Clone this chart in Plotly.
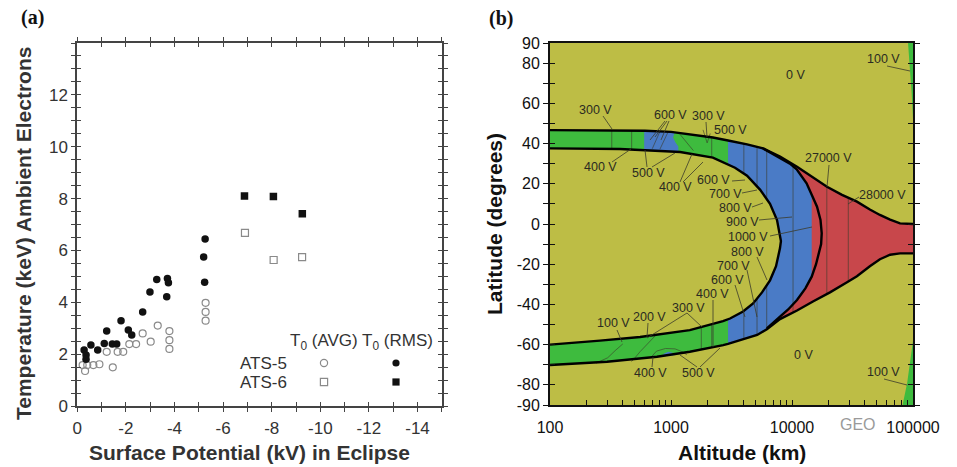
import plotly.graph_objects as go

W, H = 957, 467
FONT = "Liberation Sans, Arial, Helvetica, sans-serif"

# ---------------- Panel (a) data ----------------
ats5_rms_x = [-0.28, -0.36, -0.36, -0.56, -0.84, -1.11, -1.21, -1.44, -1.62, -1.80, -2.10,
              -2.24, -2.69, -2.99, -3.27, -3.71, -3.75, -3.68, -5.26, -5.20, -5.24]
ats5_rms_y = [2.16, 1.97, 1.80, 2.35, 2.16, 2.41, 2.89, 2.39, 2.39, 3.29, 2.93,
              2.74, 3.63, 4.40, 4.88, 4.92, 4.75, 4.21, 6.44, 5.75, 4.77]
ats5_avg_x = [-0.22, -0.32, -0.41, -0.66, -0.91, -1.21, -1.46, -1.66, -1.89, -2.14,
              -2.42, -2.69, -3.02, -3.31, -3.79, -3.79, -3.79, -5.28, -5.28, -5.28]
ats5_avg_y = [1.58, 1.35, 1.58, 1.58, 1.61, 2.09, 1.49, 2.09, 2.09, 2.39,
              2.39, 2.80, 2.48, 3.10, 2.89, 2.54, 2.20, 3.98, 3.63, 3.29]
ats6_rms_x = [-6.88, -8.07, -9.26]
ats6_rms_y = [8.10, 8.08, 7.41]
ats6_avg_x = [-6.90, -8.08, -9.25]
ats6_avg_y = [6.68, 5.63, 5.74]

a_xtick_vals = list(range(0, -16, -1))
a_xtick_text = [str(v) if v % 2 == 0 else "" for v in a_xtick_vals]
a_ytick_vals = [i * 0.5 for i in range(29)]
a_ytick_text = [str(int(v)) if (v % 2 == 0 and v <= 12) else "" for v in a_ytick_vals]

# ---------------- Panel (b) data (altitude km, latitude deg) ----------------
upper_outer_alt = [100, 300, 610, 1000, 1580, 2220, 2960, 4250, 5760, 7960, 11000, 14550,
                   19450, 25900, 34400, 44000, 53300, 64700, 78100, 100000]
upper_outer_lat = [46.7, 46.6, 46.4, 45.8, 44.4, 43.0, 41.5, 39.6, 37.6, 33.5, 28.5, 23.6,
                   18.5, 14.5, 11.1, 7.2, 4.5, 2.2, 0.3, 0.0]
lower_outer_alt = [100, 296, 765, 1430, 2700, 2960, 5150, 6200, 7960, 11000, 14900, 20600,
                   28500, 34400, 44000, 53300, 64700, 78100, 100000]
lower_outer_lat = [-70.1, -68.5, -66.0, -63.5, -60.2, -59.6, -55.2, -52.3, -47.3, -43.0, -38.5,
                   -34.0, -29.0, -26.0, -21.0, -17.5, -15.3, -14.6, -14.6]
c_outer_alt = [5760, 7960, 9610, 11000, 13200, 14550, 16100, 17200, 17600, 17400, 16700,
               15800, 14550, 12900, 11000, 9300, 7960, 6860, 6200]
c_outer_lat = [37.6, 33.0, 30.0, 27.0, 20.2, 14.5, 8.6, 2.0, -4.6, -10.0, -14.6,
               -20.0, -26.2, -32.0, -37.8, -42.5, -46.1, -49.8, -51.9]
inner_c_alt = [100, 379, 1190, 2220, 3380, 4250, 5460, 6580, 7520, 7960, 8100, 7960, 7380,
               6580, 5650, 4770, 3940, 3075, 2690, 1430, 555, 259, 100]
inner_c_lat = [37.6, 37.3, 35.8, 33.0, 28.0, 24.0, 17.0, 10.0, 2.0, -5.0, -8.5, -12.0, -21.0,
               -28.0, -34.0, -39.5, -43.5, -47.0, -48.3, -52.8, -56.2, -58.0, -60.0]
split_alt = 5760        # where the outer C leaves the upper boundary
merge_alt = 6200        # where the outer C joins the lower boundary
green_blue_alt = 2960   # green -> blue transition
blue_red_alt = 14550    # blue -> red transition

patch_upper_alt = [600, 1075, 1040, 1090, 1150, 1150, 600]
patch_upper_lat = [46.5, 45.7, 43.0, 40.5, 38.5, 35.7, 37.1]
patch_lower_alt = [830, 880, 950, 1030, 1090, 950]
patch_lower_lat = [-65.6, -64.4, -63.5, -64.0, -65.2, -65.6]

wedge_top_alt = [91000, 100000, 100000, 97500, 94000]
wedge_top_lat = [90, 90, 52, 65, 78]
wedge_bot_alt = [82000, 100000, 100000, 89500]
wedge_bot_lat = [-90, -90, -58, -79]

contour_full_alt = [2170, 4000, 5140, 6180, 10200, 19400, 29200]
contour_upper_alt = [324, 473]
contour_lower_alt = [1780]
contour_paths = [
    ([1840, 1990, 2110], [46.8, 40.3, 45.0]),
    ([700, 810], [37.4, 46.0]),
    ([810, 950], [37.2, 46.0]),
    ([1190, 1530], [44.5, 36.5]),
    ([240, 300, 345, 400], [-69.2, -66.5, -63.0, -59.6]),
    ([470, 487, 555, 650, 740], [-68.3, -67.6, -63.5, -59.3, -55.6]),
    ([680, 760, 900, 1080, 1250, 1350], [-66.4, -63.2, -61.9, -62.1, -63.6, -65.0]),
]

b_xtick_vals = [d * m for d in (100, 1000, 10000) for m in range(1, 10)] + [100000]
b_xtick_text = [str(v) if str(v).strip("0") == "1" else "" for v in b_xtick_vals]
b_ytick_vals = list(range(-90, 91, 10))
b_ylabels = {90, 80, 60, 40, 20, 0, -20, -40, -60, -80, -90}
b_ytick_text = [str(v) if v in b_ylabels else "" for v in b_ytick_vals]

# contour labels (text, px x, px y) and leader lines (px)
B_LABELS = [
    ("100 V", 883, 59), ("0 V", 795, 75), ("300 V", 595, 110), ("600 V", 670, 115),
    ("300 V", 708, 116), ("500 V", 730, 130), ("400 V", 600, 167), ("500 V", 648, 173),
    ("400 V", 675, 187), ("600 V", 713, 180), ("700 V", 725, 194), ("800 V", 735, 208),
    ("900 V", 742, 222), ("1000 V", 748, 237), ("27000 V", 828, 158), ("28000 V", 882, 195),
    ("800 V", 747, 252), ("700 V", 733, 266), ("600 V", 727, 280), ("400 V", 712, 294),
    ("300 V", 688, 308), ("200 V", 649, 317), ("100 V", 613, 323), ("400 V", 650, 373),
    ("500 V", 698, 373), ("0 V", 803, 355), ("100 V", 883, 372),
]
B_LEADERS = [
    (887, 66, 910, 71), (603, 116, 612, 129), (665, 121, 650, 140), (667, 121, 655, 137),
    (669, 121, 661, 140), (706, 122, 707, 137), (612, 162, 631, 149), (647, 167, 645, 150),
    (652, 167, 675, 153), (680, 182, 692, 154), (683, 182, 703, 162), (732, 181, 745, 180),
    (742, 193, 757, 190), (752, 207, 763, 203), (759, 220, 792, 217), (770, 236, 812, 227),
    (829, 165, 827, 187), (859, 197, 848, 204), (757, 257, 767, 280), (747, 270, 757, 317),
    (735, 285, 745, 317), (713, 300, 713, 347), (687, 313, 647, 338), (687, 313, 702, 327),
    (648, 323, 647, 337), (617, 330, 622, 342), (652, 367, 653, 357), (697, 367, 680, 355),
    (700, 367, 720, 348), (884, 379, 907, 385),
]

# ---------------- geometry (pixels -> paper) ----------------
AX0, AX1, AY0, AY1 = 77.3, 441.8, 43, 406
BX0, BX1, BY0, BY1 = 550, 913, 43, 405


def px(x, y):
    return x / W, 1 - y / H


OLIVE = "#BDBD45"
GREEN = "#3EBB3E"
BLUE = "#4A7BC6"
RED = "#C8474B"
AXC = "#444444"

fig = go.Figure()

# ---- panel (a) points ----
fig.add_trace(go.Scatter(x=ats5_avg_x, y=ats5_avg_y, mode="markers", name="ATS-5 T0 (AVG)",
                         marker=dict(symbol="circle-open", size=7, color="#8a8a8a", line=dict(width=1.2))))
fig.add_trace(go.Scatter(x=ats5_rms_x, y=ats5_rms_y, mode="markers", name="ATS-5 T0 (RMS)",
                         marker=dict(symbol="circle", size=7.5, color="#111111")))
fig.add_trace(go.Scatter(x=ats6_avg_x, y=ats6_avg_y, mode="markers", name="ATS-6 T0 (AVG)",
                         marker=dict(symbol="square-open", size=7, color="#8a8a8a", line=dict(width=1.2))))
fig.add_trace(go.Scatter(x=ats6_rms_x, y=ats6_rms_y, mode="markers", name="ATS-6 T0 (RMS)",
                         marker=dict(symbol="square", size=7.5, color="#111111")))
fig.add_trace(go.Scatter(x=[None], y=[None], xaxis="x3", yaxis="y", hoverinfo="skip"))
fig.add_trace(go.Scatter(x=[None], y=[None], xaxis="x", yaxis="y3", hoverinfo="skip"))


# ---- panel (b) ----
def poly(xs, ys, color):
    fig.add_trace(go.Scatter(x=xs, y=ys, fill="toself", fillcolor=color, mode="none",
                             xaxis="x2", yaxis="y2", hoverinfo="skip"))


def pts(alts, lats, cond):
    return [(a, l) for a, l in zip(alts, lats) if cond(a)]


# red: whole region between upper and lower boundaries
poly(upper_outer_alt + lower_outer_alt[::-1], upper_outer_lat + lower_outer_lat[::-1], RED)
# blue: inside outer C, below blue/red transition
bp = (pts(upper_outer_alt, upper_outer_lat, lambda a: a <= split_alt)
      + pts(c_outer_alt, c_outer_lat, lambda a: a <= blue_red_alt)
      + pts(lower_outer_alt, lower_outer_lat, lambda a: a <= merge_alt)[::-1])
poly([p[0] for p in bp], [p[1] for p in bp], BLUE)
# green: bands below the green/blue transition
gp = (pts(upper_outer_alt, upper_outer_lat, lambda a: a <= green_blue_alt)
      + pts(lower_outer_alt, lower_outer_lat, lambda a: a <= green_blue_alt)[::-1])
poly([p[0] for p in gp], [p[1] for p in gp], GREEN)
poly(patch_upper_alt, patch_upper_lat, BLUE)

# vertical contour lines (clipped by the olive areas drawn after)
cx, cy = [], []
for a in contour_full_alt:
    cx += [a, a, None]; cy += [-90, 90, None]
for a in contour_upper_alt:
    cx += [a, a, None]; cy += [0, 90, None]
for a in contour_lower_alt:
    cx += [a, a, None]; cy += [-90, 0, None]
fig.add_trace(go.Scatter(x=cx, y=cy, mode="lines", line=dict(color="#3b3b2b", width=0.8),
                         xaxis="x2", yaxis="y2", hoverinfo="skip", opacity=0.75))

# olive outside regions and inner region
poly(upper_outer_alt + [100000, 100], upper_outer_lat + [90, 90], OLIVE)
poly(lower_outer_alt + [100000, 100], lower_outer_lat + [-90, -90], OLIVE)
poly(inner_c_alt, inner_c_lat, OLIVE)
poly(patch_lower_alt, patch_lower_lat, BLUE)

for xs, ys in contour_paths:
    fig.add_trace(go.Scatter(x=xs, y=ys, mode="lines", line=dict(color="#3b3b2b", width=0.8),
                             xaxis="x2", yaxis="y2", hoverinfo="skip", opacity=0.75))

poly(wedge_top_alt, wedge_top_lat, GREEN)
poly(wedge_bot_alt, wedge_bot_lat, GREEN)

for xs, ys in ((upper_outer_alt, upper_outer_lat), (lower_outer_alt, lower_outer_lat),
               (c_outer_alt, c_outer_lat), (inner_c_alt, inner_c_lat)):
    fig.add_trace(go.Scatter(x=xs, y=ys, mode="lines", line=dict(color="#000000", width=2.4),
                             xaxis="x2", yaxis="y2", hoverinfo="skip"))

fig.add_trace(go.Scatter(x=[None], y=[None], xaxis="x2", yaxis="y4", hoverinfo="skip"))

# ---------------- annotations / shapes ----------------
ann = []
shapes = []


def text(t, x, y, size, color, bold=False, angle=0, family=FONT):
    xx, yy = px(x, y)
    ann.append(dict(text=f"<b>{t}</b>" if bold else t, x=xx, y=yy, xref="paper", yref="paper",
                    showarrow=False, xanchor="center", yanchor="middle", textangle=angle,
                    font=dict(family=family, size=size, color=color)))


text("(a)", 32, 18, 20, "#111", bold=True, family="Liberation Serif, Times New Roman, serif")
text("(b)", 501, 19, 20, "#111", bold=True, family="Liberation Serif, Times New Roman, serif")
text("Temperature (keV) Ambient Electrons", 23, 234, 21, "#333", bold=True, angle=-90)
text("Surface Potential (kV) in Eclipse", 249, 452, 21, "#333", bold=True)
text("Latitude (degrees)", 494, 224, 21, "#111", bold=True, angle=-90)
text("Altitude (km)", 742, 452, 21, "#111", bold=True)
text("GEO", 858, 424, 16, "#9a9a9a")

# legend of panel (a)
text("T<sub>0</sub> (AVG) T<sub>0</sub> (RMS)", 361, 342, 17, "#333")
text("ATS-5", 263, 363, 17, "#333")
text("ATS-6", 263, 382, 17, "#333")


def key(kind, x, y, filled):
    r = 3.6
    x0, y0 = px(x - r, y + r)
    x1, y1 = px(x + r, y - r)
    shapes.append(dict(type=kind, xref="paper", yref="paper", x0=x0, y0=y0, x1=x1, y1=y1,
                       fillcolor="#111" if filled else "rgba(0,0,0,0)",
                       line=dict(color="#111" if filled else "#8a8a8a", width=0 if filled else 1.2)))


key("circle", 324, 363, False)
key("circle", 396, 363, True)
key("rect", 324, 382, False)
key("rect", 396, 382, True)

for t, x, y in B_LABELS:
    text(t, x, y, 12.5, "#2b2b22")
for x0, y0, x1, y1 in B_LEADERS:
    a0, b0 = px(x0, y0)
    a1, b1 = px(x1, y1)
    shapes.append(dict(type="line", xref="paper", yref="paper", x0=a0, y0=b0, x1=a1, y1=b1,
                       line=dict(color="#3b3b2b", width=0.8)))

# olive background for panel (b)
shapes.append(dict(type="rect", xref="x2 domain", yref="y2 domain", x0=0, y0=0, x1=1, y1=1,
                   fillcolor=OLIVE, line=dict(width=0), layer="below"))

tickfont_a = dict(family=FONT, size=17, color="#333")
tickfont_b = dict(family=FONT, size=16, color="#111")

xa_dom = [AX0 / W, AX1 / W]
ya_dom = [1 - AY1 / H, 1 - AY0 / H]
xb_dom = [BX0 / W, BX1 / W]
yb_dom = [1 - BY1 / H, 1 - BY0 / H]

common = dict(showgrid=False, zeroline=False, automargin=False)

fig.update_layout(
    width=W, height=H, template="none", showlegend=False,
    margin=dict(l=0, r=0, t=0, b=0, pad=0),
    paper_bgcolor="white", plot_bgcolor="white",
    font=dict(family=FONT),
    xaxis=dict(domain=xa_dom, range=[0, -15], anchor="y", tickmode="array",
               tickvals=a_xtick_vals, ticktext=a_xtick_text, ticks="outside", ticklen=4,
               tickwidth=1.2, tickcolor=AXC, showline=True, linecolor=AXC, linewidth=1.8,
               mirror="ticks", tickfont=tickfont_a, ticklabelstandoff=2, **common),
    xaxis3=dict(overlaying="x", anchor="y", range=[0, -15], tickmode="array",
                tickvals=a_xtick_vals, ticks="inside", ticklen=4, tickwidth=1.2, tickcolor=AXC,
                showticklabels=False, showline=False, mirror="ticks", **common),
    yaxis=dict(domain=ya_dom, range=[0, 14], anchor="x", tickmode="array",
               tickvals=a_ytick_vals, ticktext=a_ytick_text, ticks="outside", ticklen=4,
               tickwidth=1.2, tickcolor=AXC, showline=True, linecolor=AXC, linewidth=1.8,
               mirror="ticks", tickfont=tickfont_a, **common),
    yaxis3=dict(overlaying="y", anchor="x", range=[0, 14], tickmode="array",
                tickvals=a_ytick_vals, ticks="inside", ticklen=4, tickwidth=1.2, tickcolor=AXC,
                showticklabels=False, showline=False, mirror="ticks", **common),
    xaxis2=dict(domain=xb_dom, type="log", range=[2, 5], anchor="y2", tickmode="array",
                tickvals=b_xtick_vals, ticktext=b_xtick_text, ticks="inside", ticklen=5,
                tickwidth=1.2, tickcolor="#111", showline=True, linecolor="#111", linewidth=2,
                mirror=True, tickfont=tickfont_b, ticklabelstandoff=7, **common),
    yaxis2=dict(domain=yb_dom, range=[-90, 90], anchor="x2", tickmode="array",
                tickvals=b_ytick_vals, ticktext=b_ytick_text, ticks="outside", ticklen=5,
                tickwidth=1.2, tickcolor="#111", showline=True, linecolor="#111", linewidth=2,
                mirror="ticks", tickfont=tickfont_b, **common),
    yaxis4=dict(overlaying="y2", anchor="x2", range=[-90, 90], tickmode="array",
                tickvals=b_ytick_vals, ticks="inside", ticklen=5, tickwidth=1.2, tickcolor="#111",
                showticklabels=False, showline=False, mirror="ticks", **common),
    annotations=ann, shapes=shapes,
)

fig.write_html("out.html", config={"displayModeBar": False},
               post_script="document.body.style.margin='0px';"
               "document.body.style.overflow='hidden';")
